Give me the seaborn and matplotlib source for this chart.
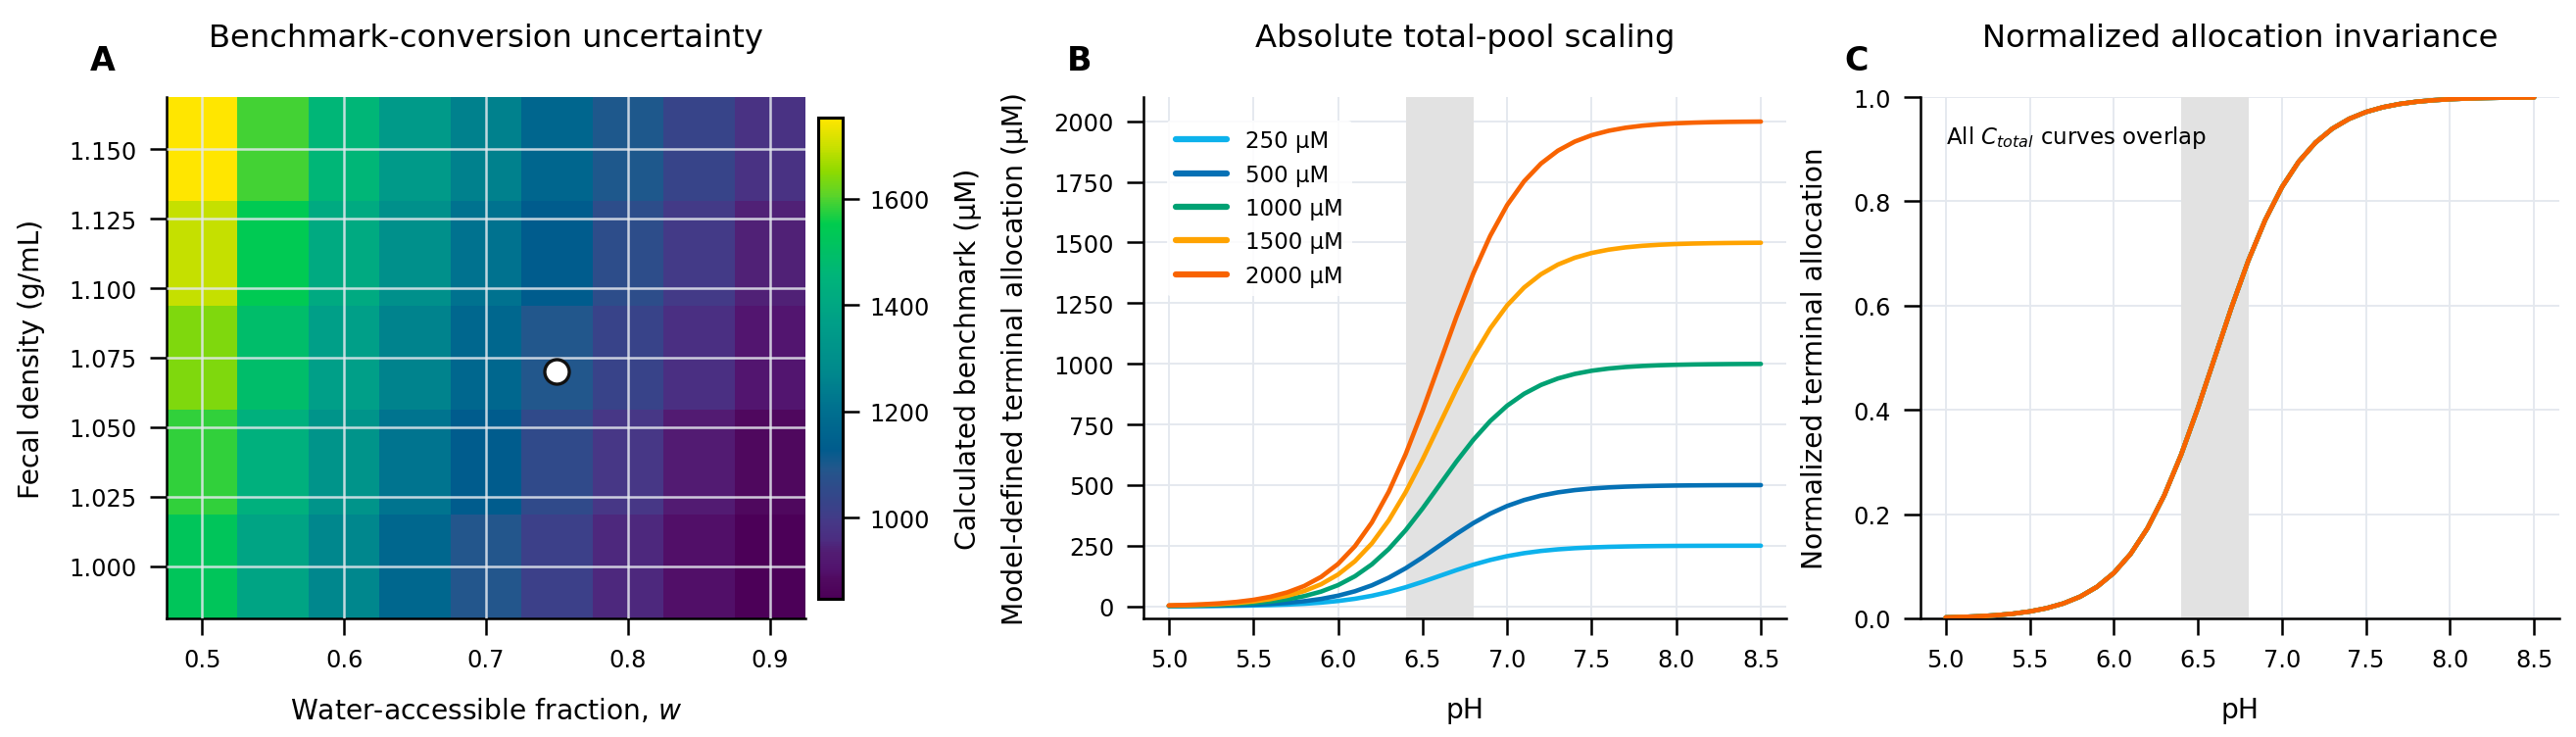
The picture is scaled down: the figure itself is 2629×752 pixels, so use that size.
import numpy as np
import pandas as pd
import matplotlib
matplotlib.use("Agg")
import matplotlib.pyplot as plt
from matplotlib.colors import LinearSegmentedColormap
import seaborn as sns

# ---- data ----
w_vals = [0.50, 0.55, 0.60, 0.65, 0.70, 0.75, 0.80, 0.85, 0.90]
rho_vals = [1.0, 1.0375, 1.075, 1.1125, 1.15]
# benchmark (uM), rows = density, cols = w
bench_rho_100 = [1524, 1385, 1270, 1172, 1089, 1016, 953, 896, 847]
bench_rho_104 = [1581, 1437, 1318, 1216, 1129, 1054, 988, 930, 878]
bench_rho_108 = [1638, 1489, 1365, 1260, 1170, 1092, 1024, 964, 910]
bench_rho_111 = [1696, 1541, 1413, 1304, 1211, 1130, 1060, 997, 942]
bench_rho_115 = [1753, 1593, 1461, 1348, 1252, 1168, 1095, 1031, 974]
ref_w, ref_rho = 0.75, 1.07

ph = [5.0, 5.1, 5.2, 5.3, 5.4, 5.5, 5.6, 5.7, 5.8, 5.9,
      6.0, 6.1, 6.2, 6.3, 6.4, 6.5, 6.6, 6.7, 6.8, 6.9,
      7.0, 7.1, 7.2, 7.3, 7.4, 7.5, 7.6, 7.7, 7.8, 7.9,
      8.0, 8.1, 8.2, 8.3, 8.4, 8.5]
frac = [0.0019, 0.0028, 0.0041, 0.0061, 0.0090, 0.0133, 0.0196, 0.0287, 0.0418, 0.0606,
        0.0872, 0.1238, 0.1728, 0.2361, 0.3137, 0.4034, 0.5000, 0.5966, 0.6863, 0.7639,
        0.8272, 0.8762, 0.9128, 0.9394, 0.9582, 0.9713, 0.9804, 0.9867, 0.9910, 0.9939,
        0.9959, 0.9972, 0.9981, 0.9987, 0.9991, 0.9994]
pools = [250, 500, 1000, 1500, 2000]
pool_colors = ["#0db2ec", "#0571b5", "#00a173", "#ffa300", "#f86300"]
band = (6.4, 6.8)

# ---- style ----
sns.set_theme(style="ticks")
plt.rcParams["font.family"] = ["DejaVu Sans"]
plt.rcParams.update({
    "axes.edgecolor": "black", "axes.linewidth": 1.2,
    "xtick.major.size": 8, "ytick.major.size": 8,
    "xtick.major.width": 1.2, "ytick.major.width": 1.2,
    "xtick.major.pad": 6.5, "ytick.major.pad": 6.5,
    "xtick.labelsize": 11.5, "ytick.labelsize": 11.5,
    "axes.labelsize": 13.5, "axes.titlesize": 15.5,
    "grid.color": "#e4e8ee", "grid.linewidth": 0.9,
    "xtick.color": "black", "ytick.color": "black",
    "text.color": "black", "axes.labelcolor": "black",
})

# viridis-like map, colours sampled from the reference colour bar
cmap = LinearSegmentedColormap.from_list("vir_boost", [
    (0.00, "#4c0058"), (0.04, "#500a60"), (0.06, "#52136e"), (0.094, "#521c72"),
    (0.12, "#4c2c80"), (0.157, "#463887"), (0.19, "#3a4289"), (0.23, "#2f4b8a"),
    (0.27, "#22578c"), (0.31, "#005c8d"), (0.40, "#00728f"), (0.48, "#008b8c"),
    (0.57, "#009e88"), (0.67, "#00b47a"), (0.78, "#00cc4e"), (0.84, "#5cd42a"),
    (0.89, "#8fda00"), (0.94, "#c8e000"), (1.00, "#ffe600")])

W, H = 2629, 753
fig = plt.figure(figsize=(W / 150, H / 150), dpi=150)

def px_axes(x0, y0, x1, y1):
    return fig.add_axes([x0 / W, 1 - y1 / H, (x1 - x0) / W, (y1 - y0) / H])

axA = px_axes(170, 100, 822, 632)
cax = px_axes(835, 121, 860, 612)
axB = px_axes(1167, 100, 1823, 632)
axC = px_axes(1960, 100, 2612, 632)

# ---- A: heatmap ----
grid = np.array([bench_rho_100, bench_rho_104, bench_rho_108, bench_rho_111, bench_rho_115])
mesh = axA.pcolormesh(w_vals, rho_vals, grid, shading="nearest", cmap=cmap)
axA.set_axisbelow(False)
axA.grid(True, color="#e4e8ee", alpha=0.85, linewidth=1.2)
axA.plot(ref_w, ref_rho, "o", ms=12, mfc="white", mec="#111111", mew=1.6, zorder=5)
axA.set_xticks([0.5, 0.6, 0.7, 0.8, 0.9])
axA.set_yticks([1.0, 1.025, 1.05, 1.075, 1.1, 1.125, 1.15])
axA.set_yticklabels([f"{v:.3f}" for v in [1.0, 1.025, 1.05, 1.075, 1.1, 1.125, 1.15]])
axA.set_xlabel("Water-accessible fraction, $w$", labelpad=12)
axA.set_ylabel("Fecal density (g/mL)", labelpad=12)
axA.set_title("Benchmark-conversion uncertainty", pad=25)
sns.despine(ax=axA)
cb = fig.colorbar(mesh, cax=cax)
cb.set_ticks([1000, 1200, 1400, 1600])
cb.outline.set_linewidth(1.5)
cb.outline.set_edgecolor("black")
cb.ax.tick_params(length=8, width=1.2, labelsize=11.5, pad=5)
cb.set_label("Calculated benchmark (µM)", fontsize=13.5, labelpad=12)

# ---- B / C: curves ----
rows = []
for p in pools:
    for x, f in zip(ph, frac):
        rows.append({"pH": x, "pool": f"{p} µM", "abs": p * f, "norm": f})
df = pd.DataFrame(rows)
order = [f"{p} µM" for p in pools]
pal = dict(zip(order, pool_colors))

for ax in (axB, axC):
    ax.set_axisbelow(True)
    ax.grid(True)
    ax.axvspan(*band, color="#e2e2e2", lw=0, zorder=1)
    ax.set_xlim(4.85, 8.65)
    ax.set_xticks([5.0, 5.5, 6.0, 6.5, 7.0, 7.5, 8.0, 8.5])
    sns.despine(ax=ax)

sns.lineplot(data=df, x="pH", y="abs", hue="pool", hue_order=order, palette=pal,
             linewidth=2.2, ax=axB, zorder=3)
axB.set_ylim(-50, 2100)
axB.set_yticks(range(0, 2001, 250))
axB.set_xlabel("pH", labelpad=12)
axB.set_ylabel("Model-defined terminal allocation (µM)", labelpad=12)
axB.set_title("Absolute total-pool scaling", pad=25)
leg = axB.legend(loc="upper left", bbox_to_anchor=(0.036, 0.955), borderaxespad=0,
                 frameon=True, fontsize=11, handlelength=2.3)
leg.get_frame().set_facecolor("white")
leg.get_frame().set_edgecolor("none")
leg.get_frame().set_alpha(0.85)
for ln in leg.get_lines():
    ln.set_linewidth(3.0)

sns.lineplot(data=df, x="pH", y="norm", hue="pool", hue_order=order, palette=pal,
             linewidth=2.2, ax=axC, legend=False, zorder=3)
axC.set_ylim(0, 1.0)
axC.set_xlabel("pH", labelpad=12)
axC.set_ylabel("Normalized terminal allocation", labelpad=12)
axC.set_title("Normalized allocation invariance", pad=25)
axC.text(0.04, 0.95, "All $C_{total}$ curves overlap", transform=axC.transAxes,
         ha="left", va="top", fontsize=11)

# panel letters
for ax_left, letter in [(170, "A"), (1167, "B"), (1960, "C")]:
    fig.text((ax_left - 78) / W, 1 - 72 / H, letter, fontsize=16, fontweight="bold",
             ha="left", va="baseline")

fig.savefig("out.png", dpi=150)
